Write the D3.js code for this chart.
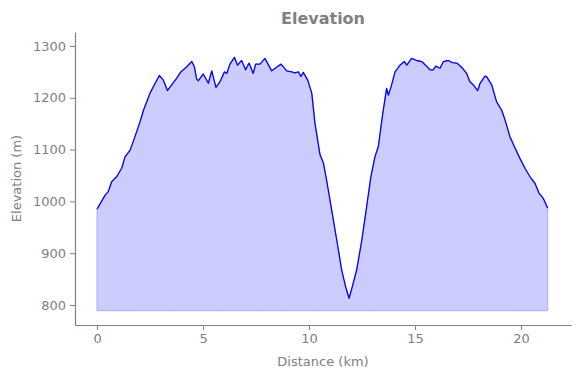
<!DOCTYPE html>
<html>
<head>
<meta charset="utf-8">
<script src="https://cdn.jsdelivr.net/npm/d3@7"></script>
<style>
  body { margin: 0; background: #fff; }
  text { font-family: "DejaVu Sans", sans-serif; }
</style>
</head>
<body>
<div id="chart"></div>
<script>
// distance (km) and elevation (m)
var distance = [0, 0.38, 0.53, 0.69, 0.93, 1.16, 1.32, 1.56, 1.79, 2.03, 2.19, 2.34, 2.5, 2.74, 2.94,
  3.13, 3.32, 3.52, 3.76, 3.95, 4.23, 4.47, 4.59, 4.7, 4.78, 5.01, 5.25, 5.41, 5.61, 5.8, 6.01,
  6.12, 6.27, 6.48, 6.63, 6.82, 7.01, 7.17, 7.37, 7.48, 7.69, 7.92, 8.24, 8.47, 8.68, 8.95, 9.18,
  9.34, 9.5, 9.62, 9.73, 9.94, 10.13, 10.28, 10.52, 10.68, 10.83, 11.07, 11.31, 11.54, 11.73, 11.89,
  12.04, 12.25, 12.49, 12.72, 12.92, 13.11, 13.27, 13.46, 13.66, 13.74, 13.87, 14.06, 14.29, 14.5,
  14.61, 14.84, 15.08, 15.32, 15.5, 15.71, 15.86, 15.98, 16.18, 16.34, 16.57, 16.76, 16.97, 17.2,
  17.44, 17.59, 17.75, 17.96, 18.07, 18.3, 18.38, 18.62, 18.85, 19.09, 19.25, 19.48, 19.72, 19.95,
  20.19, 20.42, 20.66, 20.85, 21.05, 21.26];
var elevation = [985, 1012, 1019, 1038, 1048, 1064, 1086, 1099, 1125, 1154, 1176, 1192, 1209, 1228, 1243,
  1234, 1214, 1225, 1238, 1250, 1260, 1270, 1260, 1236, 1233, 1246, 1228, 1252, 1220, 1231, 1250,
  1247, 1265, 1278, 1263, 1272, 1254, 1267, 1247, 1265, 1265, 1276, 1252, 1259, 1265, 1252, 1250,
  1248, 1250, 1241, 1249, 1234, 1209, 1151, 1090, 1074, 1041, 983, 925, 868, 835, 813,
  835, 868, 925, 990, 1048, 1086, 1106, 1164, 1218, 1205, 1221, 1250, 1263, 1270,
  1263, 1276, 1272, 1270, 1263, 1254, 1254, 1261, 1257, 1270, 1272, 1268, 1267, 1259,
  1247, 1231, 1225, 1214, 1228, 1242, 1241, 1225, 1192, 1176, 1157, 1125, 1103, 1083,
  1064, 1048, 1035, 1016, 1006, 987];
var fillFloor = 789;
var xTicks = [0, 5, 10, 15, 20];
var yTicks = [800, 900, 1000, 1100, 1200, 1300];

var width = 580, height = 378;
var margin = {left: 75, right: 9, top: 32, bottom: 53};
var grey = "#808080";

var svg = d3.select("#chart").append("svg")
            .attr("width", width)
            .attr("height", height);

var x = d3.scaleLinear()
          .domain([-1.04, 22.36])
          .range([margin.left, width - margin.right]);
var y = d3.scaleLinear()
          .domain([761.4, 1327])
          .range([height - margin.bottom, margin.top]);

var pts = distance.map(function(d, i) { return [d, elevation[i]]; });

// shaded area under the profile
var area = d3.area()
             .x(function(d) { return x(d[0]); })
             .y0(y(fillFloor))
             .y1(function(d) { return y(d[1]); });

svg.append("path")
   .datum(pts)
   .attr("d", area)
   .attr("fill", "#ccccff")
   .attr("stroke", "#aaaaff")
   .attr("stroke-width", 1);

var line = d3.line()
             .x(function(d) { return x(d[0]); })
             .y(function(d) { return y(d[1]); });

svg.append("path")
   .datum(pts)
   .attr("d", line)
   .attr("fill", "none")
   .attr("stroke", "#0000ff")
   .attr("stroke-width", 1.3)
   .attr("stroke-linejoin", "round");

// axes
var xAxis = svg.append("g")
   .attr("transform", "translate(0," + (height - margin.bottom) + ")")
   .call(d3.axisBottom(x).tickValues(xTicks).tickFormat(d3.format("d"))
           .tickSize(5).tickPadding(4).tickSizeOuter(0));
var yAxis = svg.append("g")
   .attr("transform", "translate(" + margin.left + ",0)")
   .call(d3.axisLeft(y).tickValues(yTicks).tickFormat(d3.format("d"))
           .tickSize(5).tickPadding(4).tickSizeOuter(0));

[xAxis, yAxis].forEach(function(g) {
  g.select(".domain").attr("stroke", grey).attr("stroke-width", 1.2);
  g.selectAll(".tick line").attr("stroke", grey).attr("stroke-width", 1);
  g.selectAll(".tick text")
   .attr("fill", grey)
   .attr("font-size", 13)
   .attr("font-family", "DejaVu Sans, sans-serif");
});

// labels
svg.append("text")
   .attr("x", (margin.left + width - margin.right) / 2)
   .attr("y", 24)
   .attr("text-anchor", "middle")
   .attr("font-size", 16)
   .attr("font-weight", "bold")
   .attr("fill", grey)
   .text("Elevation");

svg.append("text")
   .attr("x", (margin.left + width - margin.right) / 2)
   .attr("y", 366)
   .attr("text-anchor", "middle")
   .attr("font-size", 13)
   .attr("fill", grey)
   .text("Distance (km)");

svg.append("text")
   .attr("transform", "translate(21," + ((margin.top + height - margin.bottom) / 2) + ") rotate(-90)")
   .attr("text-anchor", "middle")
   .attr("font-size", 13)
   .attr("fill", grey)
   .text("Elevation (m)");
</script>
</body>
</html>
